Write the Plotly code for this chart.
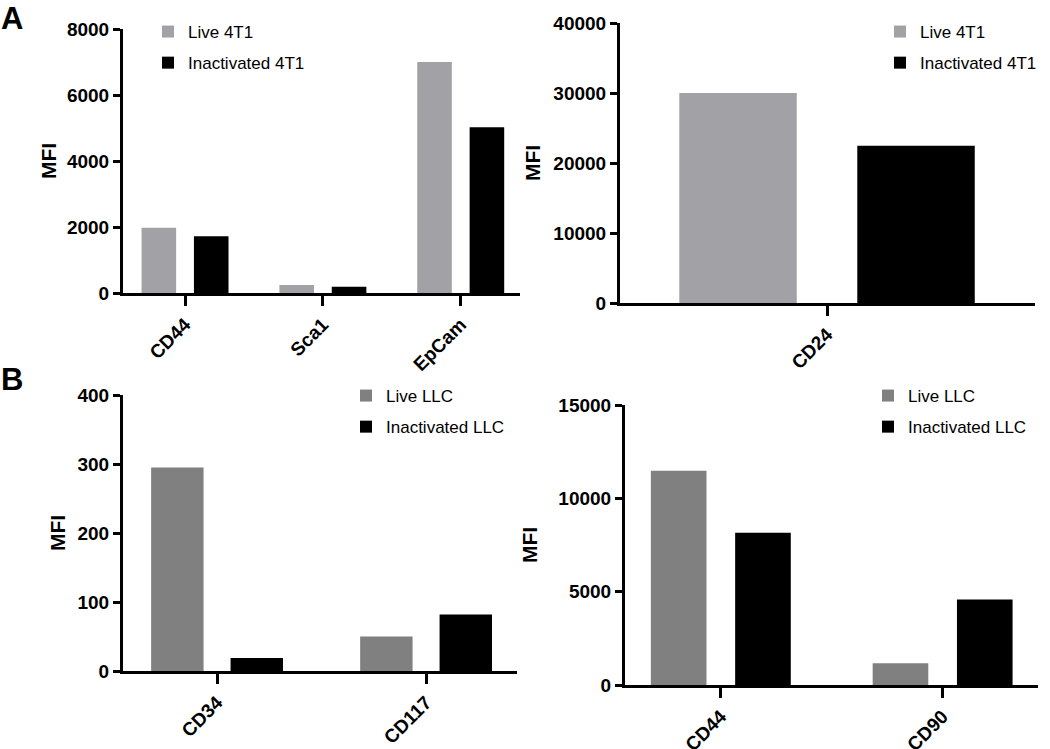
import plotly.graph_objects as go

# ---- data ----
cats_a1 = ["CD44", "Sca1", "EpCam"]
live_4t1_a1 = [1980, 240, 7000]
inact_4t1_a1 = [1720, 190, 5020]

cats_a2 = ["CD24"]
live_4t1_a2 = [30000]
inact_4t1_a2 = [22450]

cats_b1 = ["CD34", "CD117"]
live_llc_b1 = [295, 50]
inact_llc_b1 = [19, 82]

cats_b2 = ["CD44", "CD90"]
live_llc_b2 = [11480, 1170]
inact_llc_b2 = [8150, 4580]

W, H = 1050, 749
LIGHT = "#a2a2a6"
MID = "#808080"
BLACK = "#000000"
FONT = "Liberation Sans, Arial, Helvetica, sans-serif"

fig = go.Figure()

panels = [
    (cats_a1, live_4t1_a1, inact_4t1_a1, "Live 4T1", "Inactivated 4T1", LIGHT, "", "legend"),
    (cats_a2, live_4t1_a2, inact_4t1_a2, "Live 4T1", "Inactivated 4T1", LIGHT, "2", "legend2"),
    (cats_b1, live_llc_b1, inact_llc_b1, "Live LLC", "Inactivated LLC", MID, "3", "legend3"),
    (cats_b2, live_llc_b2, inact_llc_b2, "Live LLC", "Inactivated LLC", MID, "4", "legend4"),
]

for cats, live, inact, ln, iname, lc, sfx, leg in panels:
    fig.add_trace(go.Bar(x=cats, y=live, name=ln, marker=dict(color=lc, line=dict(width=0)),
                         xaxis="x" + sfx, yaxis="y" + sfx, legend=leg, offsetgroup="a" + sfx,
                         legendgroup="a" + sfx))
    fig.add_trace(go.Bar(x=cats, y=inact, name=iname, marker=dict(color=BLACK, line=dict(width=0)),
                         xaxis="x" + sfx, yaxis="y" + sfx, legend=leg, offsetgroup="b" + sfx,
                         legendgroup="b" + sfx))


def px_x(a, b):
    return [a / W, b / W]


def px_y(top, bottom):
    return [1 - bottom / H, 1 - top / H]


xcommon = dict(type="category", showline=True, linecolor="black", linewidth=3,
               ticks="outside", ticklen=10, tickwidth=3, tickcolor="black",
               tickangle=-45, tickfont=dict(family=FONT, size=19, color="black", weight="bold"),
               showgrid=False, zeroline=False, fixedrange=True, automargin=False)
ycommon = dict(showline=True, linecolor="black", linewidth=3,
               ticks="outside", ticklen=7, tickwidth=3, tickcolor="black",
               tickfont=dict(family=FONT, size=19, color="black", weight="bold"),
               tickformat="d", showgrid=False, zeroline=False, fixedrange=True, automargin=False)

axes_spec = [
    ("", px_x(123, 520), px_y(29, 293), [-0.45, 2.43], [0, 8000], 2000, 5),
    ("2", px_x(620, 1035), px_y(23, 303), [-0.442, 0.444], [0, 40000], 10000, 8),
    ("3", px_x(123, 517), px_y(395, 671), [-0.45, 1.435], [0, 400], 100, 7),
    ("4", px_x(625, 1038), px_y(405, 685), [-0.432, 1.43], [0, 15000], 5000, 16),
]

layout = dict(
    template="none",
    width=W, height=H, margin=dict(l=0, r=0, t=0, b=0, autoexpand=False),
    paper_bgcolor="white", plot_bgcolor="white",
    barmode="group", bargap=0.24, bargroupgap=0.34,
    font=dict(family=FONT, color="black"),
    showlegend=True,
)
for sfx, xd, yd, xr, yr, dt, so in axes_spec:
    layout["xaxis" + sfx] = dict(xcommon, domain=xd, range=xr, anchor="y" + sfx)
    layout["yaxis" + sfx] = dict(
        ycommon, domain=yd, range=yr, dtick=dt, anchor="x" + sfx,
        title=dict(text="MFI", font=dict(family=FONT, size=21, color="black", weight="bold"),
                   standoff=so))

legend_common = dict(font=dict(family=FONT, size=17, color="black"), bgcolor="rgba(0,0,0,0)",
                     borderwidth=0, xanchor="left", yanchor="top", tracegroupgap=6,
                     itemclick=False, itemdoubleclick=False)
legend_pos = {
    "legend": (148, 14),
    "legend2": (880, 14),
    "legend3": (346, 378),
    "legend4": (868, 378),
}
for k, (lx, ly) in legend_pos.items():
    layout[k] = dict(legend_common, x=lx / W, y=1 - ly / H)

fig.update_layout(**layout)

fig.add_annotation(text="A", x=0, y=1, xref="paper", yref="paper", xanchor="left",
                   yanchor="top", showarrow=False, borderpad=0,
                   font=dict(family=FONT, size=31, color="black", weight="bold"))
fig.add_annotation(text="B", x=0, y=1 - 361 / H, xref="paper", yref="paper", xanchor="left",
                   yanchor="top", showarrow=False, borderpad=0,
                   font=dict(family=FONT, size=31, color="black", weight="bold"))

fig.write_html("out.html", config={"displayModeBar": False},
               post_script="document.body.style.margin='0';document.body.style.overflow='hidden';")
